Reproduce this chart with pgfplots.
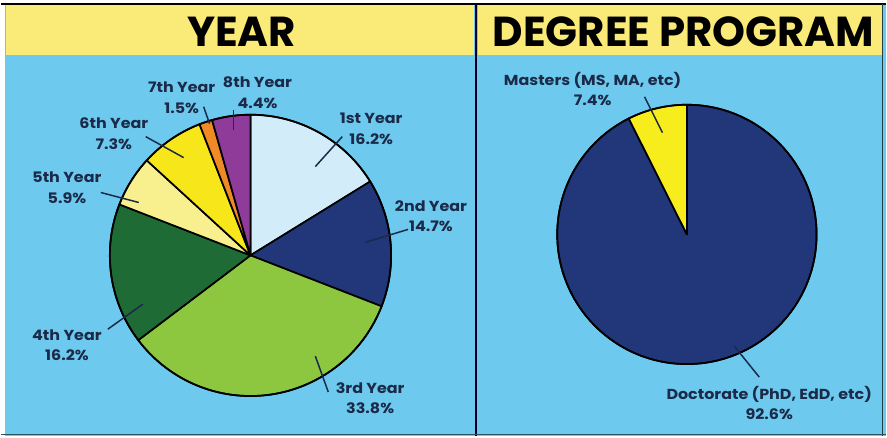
\documentclass[border=0pt]{standalone}
\usepackage{pgfplots}
\pgfplotsset{compat=1.18}
\usepackage{pgfplotstable}
\usepackage{fontspec}
\setmainfont{Poppins}
\newfontfamily\lblfamily[FakeStretch=1.1]{Poppins}
\definecolor{bgblue}{HTML}{6DCAEE}
\definecolor{hdryel}{HTML}{FAEA78}
\definecolor{cA}{HTML}{D2ECF9}
\definecolor{cB}{HTML}{22377A}
\definecolor{cC}{HTML}{8DC63F}
\definecolor{cD}{HTML}{1F6B35}
\definecolor{cE}{HTML}{F8EF8E}
\definecolor{cF}{HTML}{F6E61A}
\definecolor{cG}{HTML}{F08A24}
\definecolor{cH}{HTML}{8E3B9A}
\definecolor{cM}{HTML}{F7EC1C}
\definecolor{lbl}{HTML}{1B2A48}

\pgfplotstableread{
pct col
16.2 cA
14.7 cB
33.8 cC
16.2 cD
5.9 cE
7.3 cF
1.5 cG
4.4 cH
}\yeardata

\pgfplotstableread{
pct col
92.6 cB
7.4 cM
}\degreedata

% label table: x y (axis coords of label centre), line from (x1,y1) to (x2,y2)
\pgfplotstableread[col sep=comma]{
name,pct,x,y,x1,y1,x2,y2
1st Year,16.2\%,121,127,92,119,65,89
2nd Year,14.7\%,181,39,158,26,115,13
3rd Year,33.8\%,120,-143,78,-137,65,-101
4th Year,16.2\%,-184,-90,-143,-74,-108,-49
5th Year,5.9\%,-184,68,-150,63,-112,53
6th Year,7.3\%,-137,122,-105,119,-67,98
7th Year,1.5\%,-69,158,-47,149,-41,132
8th Year,4.4\%,7,163,-17,146,-17,126
}\yearlabels

\pgfplotstableread[col sep=comma]{
name,pct,x,y,x1,y1,x2,y2
{Masters (MS, MA, etc)},7.4\%,-94.5,146,-42.5,138,-24.5,102
{Doctorate (PhD, EdD, etc)},92.6\%,82.5,-169,72.5,-143,47.5,-112
}\degreelabels

\newcommand\piewedges[2]{% table, radius
  \def\cum{0}%
  \pgfplotstablegetrowsof{#1}\pgfmathtruncatemacro\nrows{\pgfplotsretval-1}%
  \pgfplotsforeachungrouped \i in {0,...,\nrows}{%
    \pgfplotstablegetelem{\i}{pct}\of#1\let\p=\pgfplotsretval
    \pgfplotstablegetelem{\i}{col}\of#1\let\c=\pgfplotsretval
    \pgfmathsetmacro\a{90-3.6*\cum}%
    \pgfmathsetmacro\b{90-3.6*(\cum+\p)}%
    \pgfmathsetmacro\ax{#2*cos(\a)}%
    \pgfmathsetmacro\ay{#2*sin(\a)}%
    \edef\tmp{\noexpand\filldraw[fill=\c,draw=black,line width=1.7bp,line join=round]
      (axis cs:0,0) -- (axis cs:\ax,\ay) arc[start angle=\a,end angle=\b,radius=#2] -- cycle;}%
    \tmp
    \pgfmathsetmacro\cum{\cum+\p}%
  }%
  \draw[black,line width=1.7bp] (axis cs:0,0) circle[radius=#2];
}
\newcommand\pielabels[1]{%
  \pgfplotstablegetrowsof{#1}\pgfmathtruncatemacro\nrows{\pgfplotsretval-1}%
  \pgfplotsforeachungrouped \i in {0,...,\nrows}{%
    \pgfplotstablegetelem{\i}{name}\of#1\let\nm=\pgfplotsretval
    \pgfplotstablegetelem{\i}{pct}\of#1\let\pc=\pgfplotsretval
    \pgfplotstablegetelem{\i}{x}\of#1\let\lx=\pgfplotsretval
    \pgfplotstablegetelem{\i}{y}\of#1\let\ly=\pgfplotsretval
    \pgfplotstablegetelem{\i}{x1}\of#1\let\xa=\pgfplotsretval
    \pgfplotstablegetelem{\i}{y1}\of#1\let\ya=\pgfplotsretval
    \pgfplotstablegetelem{\i}{x2}\of#1\let\xb=\pgfplotsretval
    \pgfplotstablegetelem{\i}{y2}\of#1\let\yb=\pgfplotsretval
    \edef\tmp{\noexpand\draw[lbl,line width=1.5bp] (axis cs:\xa,\ya) -- (axis cs:\xb,\yb);
      \noexpand\node[lbl,align=center,font=\noexpand\labelfont,inner sep=0pt] at (axis cs:\lx,\ly) {\unexpanded\expandafter{\nm}\noexpand\\\unexpanded\expandafter{\pc}};}%
    \tmp
  }%
}
\newcommand\labelfont{\lblfamily\fontsize{14.5bp}{20.5bp}\selectfont\bfseries}

\begin{document}
\begin{tikzpicture}[x=1bp,y=1bp]
% background panels
\fill[white] (0,0) rectangle (887,437);
\fill[bgblue] (4,0) rectangle (887,434);
\fill[hdryel] (5,382) rectangle (474,432);
\fill[hdryel] (478,382) rectangle (883,432);
\draw[black,line width=2.2bp] (0,433) -- (887,433);
\draw[black!85!blue,line width=2.4bp] (476,0) -- (476,433);
\draw[black!70!bgblue,line width=1bp] (884,0) -- (884,433);
\draw[black!60!bgblue,line width=1.2bp] (0,1.5) -- (887,1.5);
% titles
\node[font=\fontsize{42bp}{42bp}\selectfont\bfseries,inner sep=0pt] at (241,405) {YEAR};
\node[font=\fontsize{42bp}{42bp}\selectfont\bfseries,inner sep=0pt] at (684,405) {DEGREE PROGRAM};

\begin{axis}[x=1bp,y=1bp,xmin=-150,xmax=150,ymin=-150,ymax=150,
  hide axis,clip=false,anchor=origin,at={(250,181)}]
  \piewedges{\yeardata}{141}
  \pielabels{\yearlabels}
\end{axis}

\begin{axis}[x=1bp,y=1bp,xmin=-150,xmax=150,ymin=-150,ymax=150,
  hide axis,clip=false,anchor=origin,at={(687.5,202)}]
  \piewedges{\degreedata}{130}
  \pielabels{\degreelabels}
\end{axis}
\end{tikzpicture}
\end{document}
